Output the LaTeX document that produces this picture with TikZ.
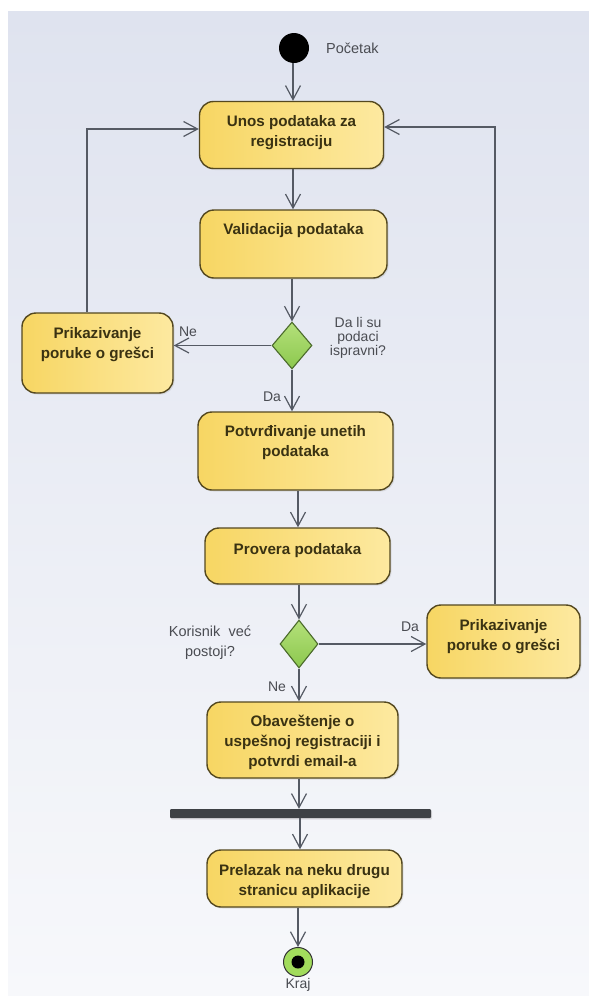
\documentclass[tikz,border=0pt]{standalone}
\usepackage{fontspec}
\setmainfont{Liberation Sans}
\usetikzlibrary{arrows.meta,shapes.geometric,shadows}

\definecolor{bgtop}{HTML}{DFE3EF}
\definecolor{bgbot}{HTML}{F7F8FB}
\definecolor{actfillA}{HTML}{F7D663}
\definecolor{actfillB}{HTML}{FDE9A0}
\definecolor{actline}{HTML}{54481F}
\definecolor{acttext}{HTML}{3A3212}
\definecolor{decA}{HTML}{8CC84E}
\definecolor{decB}{HTML}{B4E07A}
\definecolor{decline}{HTML}{4B6B2B}
\definecolor{flow}{HTML}{555A64}
\definecolor{lbl}{HTML}{4A4C52}
\definecolor{barcol}{HTML}{3E4145}
\definecolor{endring}{HTML}{A2DC5C}

\tikzset{
  action/.style={draw=actline, line width=1.4pt, rounded corners=14pt,
    left color=actfillA, right color=actfillB, inner sep=0pt,
    drop shadow={opacity=0.18, shadow xshift=1.5pt, shadow yshift=-1.5pt}},
  acttxt/.style={text=acttext, align=center, inner sep=0pt,
    font=\bfseries\fontsize{15.2}{20}\selectfont},
  decision/.style={diamond, draw=decline, line width=1.1pt, inner sep=0pt,
    top color=decB, bottom color=decA},
  lab/.style={text=lbl, align=center, inner sep=0pt,
    font=\fontsize{14}{14}\selectfont},
  flowline/.style={draw=flow, line width=1.2pt,
    -{Straight Barb[length=14pt,width=15pt,line width=1.2pt]}},
}

\begin{document}
\begin{tikzpicture}[x=1pt,y=-1pt]
\useasboundingbox (0,0) rectangle (589,996);
\fill[white] (0,0) rectangle (589,996);
\shade[top color=bgtop, bottom color=bgbot] (8,11) rectangle (589,996);

% start node
\node[circle, fill=black, minimum size=30pt, inner sep=0pt] (start) at (294,48) {};
\node[lab, anchor=west, font=\fontsize{14.5}{14}\selectfont] (startlab) at (326,48) {Početak};

% actions
\node[action, minimum width=184pt, minimum height=67pt] (b1) at (291.5,135) {};
\node[acttxt] (t1) at (291.5,133) {Unos podataka za\\registraciju};

\node[action, minimum width=187pt, minimum height=68pt] (b2) at (293.5,244) {};
\node[acttxt] (t2) at (293.5,231) {Validacija podataka};

\node[decision, minimum width=40pt, minimum height=47pt] (d1) at (292,345.5) {};
\node[lab] (q1) at (358,338) {Da li su\\podaci\\ispravni?};

\node[action, minimum width=151pt, minimum height=80pt] (e1) at (97.5,353) {};
\node[acttxt] (te1) at (97.5,345) {Prikazivanje\\poruke o grešci};

\node[action, minimum width=195pt, minimum height=78pt] (b3) at (295.5,451) {};
\node[acttxt] (t3) at (295.5,443) {Potvrđivanje unetih\\podataka};

\node[action, minimum width=185pt, minimum height=56pt] (b4) at (297.5,556) {};
\node[acttxt] (t4) at (297.5,551) {Provera podataka};

\node[decision, minimum width=38pt, minimum height=48pt] (d2) at (299,644) {};
\node[lab, font=\fontsize{14.5}{20}\selectfont] (q2) at (210,643) {Korisnik\ \ već\\postoji?};

\node[action, minimum width=153pt, minimum height=73pt] (e2) at (503.5,641.5) {};
\node[acttxt] (te2) at (503.5,637) {Prikazivanje\\poruke o grešci};

\node[action, minimum width=191pt, minimum height=76pt] (b5) at (302.5,740) {};
\node[acttxt] (t5) at (302.5,742) {Obaveštenje o\\uspešnoj registraciji i\\potvrdi email-a};

\node[fill=barcol, minimum width=261pt, minimum height=9pt, inner sep=0pt,
      rounded corners=1pt,
      drop shadow={opacity=0.2, shadow xshift=1pt, shadow yshift=-1.5pt}] (bar) at (300.5,813.5) {};

\node[action, minimum width=195pt, minimum height=57pt] (b6) at (304.5,878.5) {};
\node[acttxt] (t6) at (304.5,882) {Prelazak na neku drugu\\stranicu aplikacije};

% final node
\node[circle, draw=black!80, line width=1pt, fill=endring, minimum size=29pt, inner sep=0pt] (fin) at (298,962) {};
\node[circle, fill=black, minimum size=13pt, inner sep=0pt] (fincore) at (fin.center) {};
\node[lab] (finlab) at (298,985) {Kraj};

% branch labels
\node[lab] (ne1) at (188,332) {Ne};
\node[lab] (da1) at (272,397) {Da};
\node[lab] (da2) at (410,627) {Da};
\node[lab] (ne2) at (277,687) {Ne};

% flows
\draw[flowline] (start.south -| 293,0) -- (b1.north -| 293,0);
\draw[flowline] (b1.south -| 293,0) -- (b2.north -| 293,0);
\draw[flowline] (b2.south -| d1.north) -- (d1.north);
\draw[flowline] (d1.west) -- (d1.west -| e1.east);
\draw[flowline] ([xshift=-10.5pt]e1.north) |- ([yshift=6pt]b1.west);
\draw[flowline] (d1.south) -- (d1.south |- b3.north);
\draw[flowline] (b3.south -| 298,0) -- (b4.north -| 298,0);
\draw[flowline] (b4.south -| d2.north) -- (d2.north);
\draw[flowline] (d2.east) -- (d2.east -| e2.west);
\draw[flowline] ([xshift=-8.5pt]e2.north) |- ([yshift=8pt]b1.east);
\draw[flowline] (d2.south) -- (d2.south |- b5.north);
\draw[flowline] (b5.south -| 299,0) -- (bar.north -| 299,0);
\draw[flowline] (bar.south -| 300,0) -- (b6.north -| 300,0);
\draw[flowline] (b6.south -| 298,0) -- (fin.north);
\end{tikzpicture}
\end{document}
